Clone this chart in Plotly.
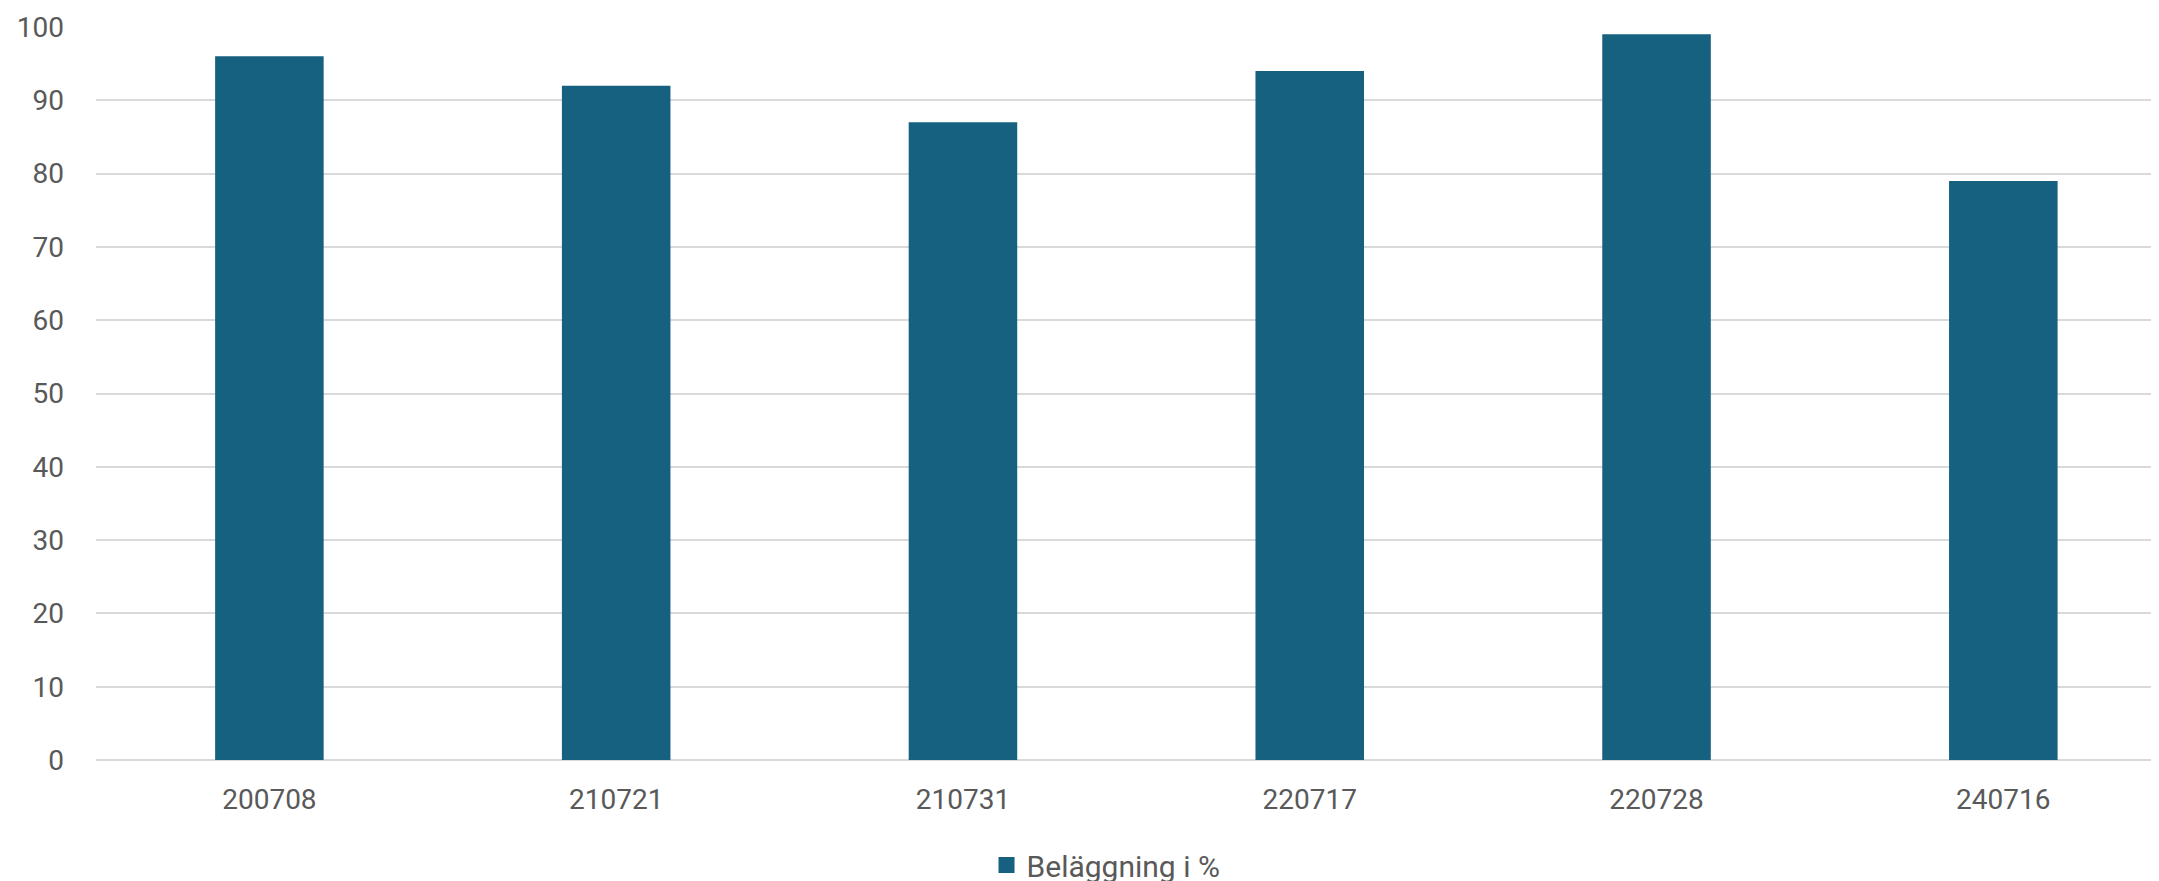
import plotly.graph_objects as go

categories = ["200708", "210721", "210731", "220717", "220728", "240716"]
values = [96, 92, 87, 94, 99, 79]
series_name = "Beläggning i %"
y_ticks = [0, 10, 20, 30, 40, 50, 60, 70, 80, 90, 100]
bar_color = "#166080"

fig = go.Figure()
fig.add_trace(go.Bar(
    x=categories, y=values, name=series_name,
    marker=dict(color=bar_color, line=dict(width=0)),
    showlegend=False,
))
# legend-only entry with a larger square symbol
fig.add_trace(go.Scatter(
    x=[None], y=[None], mode="markers", name=series_name,
    marker=dict(symbol="square", size=16, color=bar_color),
    showlegend=True,
))

fig.update_layout(
    width=2159, height=881,
    margin=dict(l=88, r=0, t=19, b=129, autoexpand=False),
    paper_bgcolor="white", plot_bgcolor="white",
    bargap=0.687,
    font=dict(family="Roboto", color="#595959", size=28),
    showlegend=True,
    legend=dict(orientation="h", x=0.4877, xanchor="center",
                yref="container", y=0.0272, yanchor="middle",
                font=dict(size=30, family="Roboto", color="#595959"),
                itemwidth=30),
)
fig.update_xaxes(
    type="category", range=[-0.5, 5.472], showgrid=False, showline=False,
    zeroline=False, ticks="", ticklabelstandoff=20,
    tickfont=dict(size=28, color="#595959"),
)
fig.update_yaxes(
    range=[0, 100], tickvals=y_ticks, showgrid=True, gridcolor="#d9d9d9",
    gridwidth=2, zeroline=True, zerolinecolor="#d9d9d9", zerolinewidth=2,
    showline=False, ticks="", ticklabelstandoff=31,
    tickfont=dict(size=28, color="#595959"),
)

fig.write_html("out.html")
